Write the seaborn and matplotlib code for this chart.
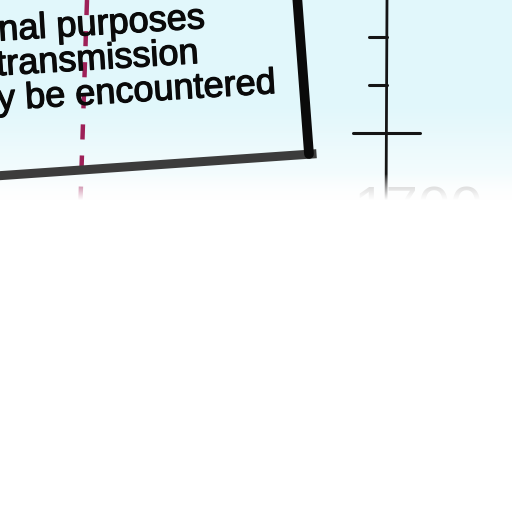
import numpy as np
import seaborn as sns
import matplotlib.pyplot as plt
import matplotlib.patheffects as pe
from matplotlib.colors import to_rgb

# texto del recuadro (solo el final de cada linea queda dentro de la imagen)
text_lines = ["for educational purposes", "errors in transmission", "which may be encountered"]
text_end_x = [205, 199, 276]
text_base_y = [28, 63, 93]

# eje de la derecha (escala en anios)
axis_x = [387, 386]
axis_y = [0, 215]
tick_years = [1800, 1750, 1700]
tick_y = [37, 85, 133]
tick_left = [369, 369, 353]
tick_right = [387, 387, 420]

# linea guia discontinua
guide_x = [87, 80]
guide_y = [0, 215]

# bordes del recuadro
right_edge_x = [297, 309]
right_edge_y = [-5, 154]
bottom_edge_x = [-5, 312]
bottom_edge_y = [176, 154]

sns.set_style("white")
plt.rcParams['font.family'] = ['Liberation Sans', 'DejaVu Sans']

fig = plt.figure(figsize=(5.12, 5.12), dpi=100)
ax = fig.add_axes([0, 0, 1, 1])
ax.set_xlim(0, 512)
ax.set_ylim(512, 0)
ax.axis("off")

# fondo degradado celeste -> blanco
yy = np.linspace(0, 512, 512)
t = np.clip((yy - 105) / 110, 0, 1)[:, None]
top = np.array(to_rgb("#e1f7fb"))
bg = top * (1 - t) + np.ones(3) * t
ax.imshow(np.repeat(bg[:, None, :], 2, axis=1), extent=[0, 512, 512, 0],
          aspect="auto", zorder=0)

# eje con marcas
sns.lineplot(x=axis_x, y=axis_y, color="#151515", linewidth=2, ax=ax,
             sort=False, estimator=None, zorder=1)
for yv, l, r in zip(tick_y, tick_left, tick_right):
    sns.lineplot(x=[l, r], y=[yv, yv], color="#151515", linewidth=2.2, ax=ax,
                 sort=False, estimator=None, zorder=1)
ax.text(418, 227, str(tick_years[-1]), fontsize=42, color="#b5b5b5",
        ha="center", va="baseline", zorder=1)

# guia discontinua magenta
sns.lineplot(x=guide_x, y=guide_y, color="#9e2158", linewidth=3.2, ax=ax,
             sort=False, estimator=None, zorder=1)
ax.lines[-1].set_dashes([3.4, 3.6])

# desvanecido blanco sobre la parte baja
fade = np.zeros((512, 2, 4))
fade[..., :3] = 1
fade[:, :, 3] = np.clip((yy - 174) / 26, 0, 1)[:, None] ** 0.8
ax.imshow(fade, extent=[0, 512, 512, 0], aspect="auto", zorder=2)

# recuadro
sns.lineplot(x=bottom_edge_x, y=bottom_edge_y, color="#3c3c3c", linewidth=6.5,
             ax=ax, sort=False, estimator=None, zorder=3)
sns.lineplot(x=right_edge_x, y=right_edge_y, color="#0a0a0a", linewidth=7,
             ax=ax, sort=False, estimator=None, zorder=3)
ax.lines[-2].set_solid_capstyle("projecting")

for s, x, y in zip(text_lines, text_end_x, text_base_y):
    ax.text(x, y, s, fontsize=26, color="#0a0a0a", ha="right", va="baseline",
            rotation=3.5, rotation_mode="anchor", zorder=4,
            path_effects=[pe.withStroke(linewidth=0.9, foreground="#0a0a0a")])

fig.savefig("out.png", dpi=100)
